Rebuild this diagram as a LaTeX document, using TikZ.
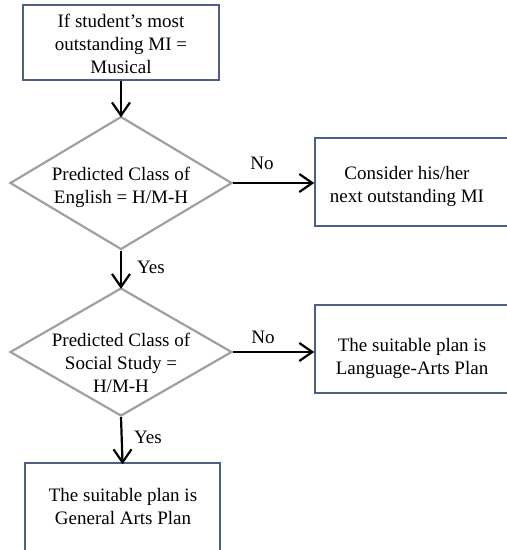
\documentclass[tikz,border=0pt]{standalone}
\usepackage{fontspec}
\setmainfont{Liberation Serif}
\usetikzlibrary{shapes.geometric}
\definecolor{boxline}{HTML}{4A6084}
\definecolor{decline}{HTML}{A0A0A0}
\tikzset{
  stepbox/.style={draw=boxline, line width=1.4pt, rectangle, inner sep=0pt},
  decision/.style={draw=decline, line width=2.2pt, diamond, inner sep=0pt},
  txt/.style={align=center, font=\fontsize{19}{23}\selectfont, inner sep=0pt},
  lbl/.style={font=\fontsize{19}{23}\selectfont, inner sep=0pt},
  link/.style={line width=2.2pt},
  barb/.style={line width=2.2pt, line join=miter, line cap=butt},
}
\begin{document}
\begin{tikzpicture}[x=1pt,y=-1pt]
\useasboundingbox (0,0) rectangle (507,550);
\fill[white] (0,0) rectangle (507,550);
\clip (0,0) rectangle (507,550);

% start box
\node[stepbox, minimum width=196pt, minimum height=75pt] (start) at (121,42.5) {};
\node[txt] (starttxt) at (121,44) {If student's most\\outstanding MI =\\Musical};

% first decision
\node[decision, minimum width=222pt, minimum height=133pt] (d1) at (121,183) {};
\node[txt] (d1txt) at (121,187) {Predicted Class of\\English = H/M-H};

% alternative: next MI
\node[stepbox, minimum width=196pt, minimum height=88pt] (b1) at (413,182) {};
\node[txt] (b1txt) at (407,186) {Consider his/her\\next outstanding MI};

% second decision
\node[decision, minimum width=222pt, minimum height=128pt] (d2) at (121,352) {};
\node[txt] (d2txt) at (121,363) {Predicted Class of\\Social Study =\\H/M-H};

% alternative: language-arts plan
\node[stepbox, minimum width=196pt, minimum height=88pt] (b2) at (413,349) {};
\node[txt] (b2txt) at (412,358) {The suitable plan is\\Language-Arts Plan};

% final plan
\node[stepbox, minimum width=195pt, minimum height=120pt] (b3) at (122.5,523) {};
\node[txt] (b3txt) at (123,506) {The suitable plan is\\General Arts Plan};

% ends of the horizontal connectors
\coordinate (t1) at ([xshift=-2pt]d1.east -| b1.west);
\coordinate (t2) at ([xshift=-2pt]d2.east -| b2.west);

% connectors
\draw[link] (start.south) -- (d1.north);
\draw[link] (d1.east) -- (t1);
\draw[link] (d1.south) -- (d2.north);
\draw[link] (d2.east) -- (t2);
\draw[link] (d2.south) -- (b3.north);

% open V-shaped arrowheads
\draw[barb] ([shift={(-9,-13)}]d1.north) -- (d1.north) -- ([shift={(9,-13)}]d1.north);
\draw[barb] ([shift={(-9,-13)}]d2.north) -- (d2.north) -- ([shift={(9,-13)}]d2.north);
\draw[barb] ([shift={(-9,-13)}]b3.north) -- (b3.north) -- ([shift={(9,-13)}]b3.north);
\draw[barb] ([shift={(-13,-9)}]t1) -- (t1) -- ([shift={(-13,9)}]t1);
\draw[barb] ([shift={(-13,-9)}]t2) -- (t2) -- ([shift={(-13,9)}]t2);

% branch labels
\node[lbl] (no1) at (262,163) {No};
\node[lbl] (yes1) at (151,267) {Yes};
\node[lbl] (no2) at (263,337) {No};
\node[lbl] (yes2) at (148,437) {Yes};
\end{tikzpicture}
\end{document}
